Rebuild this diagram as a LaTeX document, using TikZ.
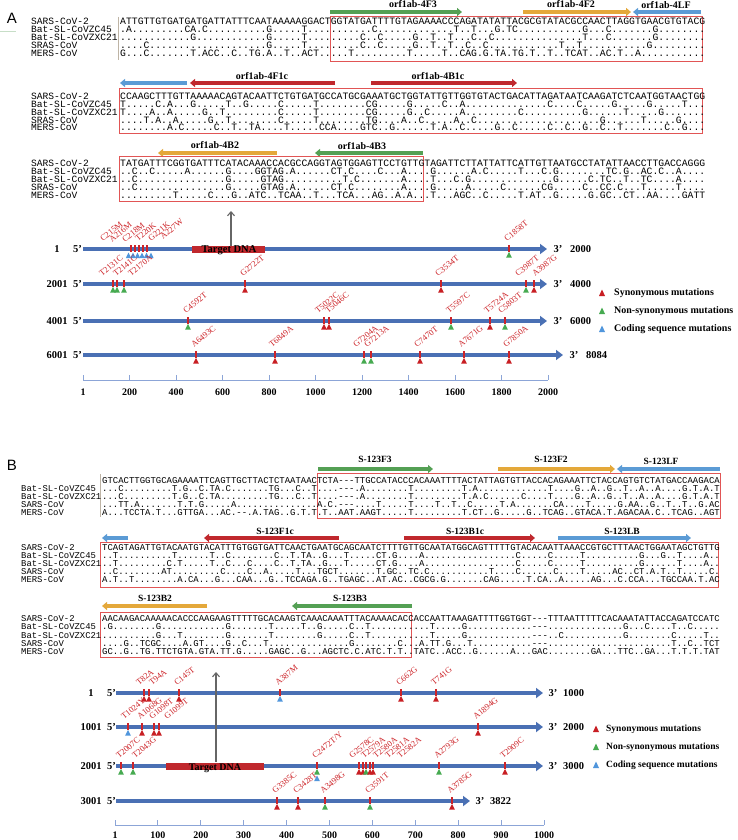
\documentclass[tikz,border=0pt]{standalone}
\usepackage{fontspec}
\setmainfont{Liberation Serif}
\setsansfont{Liberation Sans}
\setmonofont{Liberation Mono}
\usetikzlibrary{arrows.meta}
\definecolor{pgreen}{RGB}{84,160,84}
\definecolor{porange}{RGB}{228,168,58}
\definecolor{pblue}{RGB}{91,155,213}
\definecolor{pred}{RGB}{192,40,45}
\definecolor{mapblue}{RGB}{74,112,180}
\definecolor{mred}{RGB}{205,35,40}
\definecolor{tred}{RGB}{200,30,35}
\definecolor{tgreen}{RGB}{70,170,80}
\definecolor{tblue}{RGB}{80,150,220}
\definecolor{boxred}{RGB}{225,85,85}
\definecolor{axisc}{RGB}{140,165,215}
\definecolor{sepc}{RGB}{190,180,165}
\newcommand\mut[5]{%
  \draw[mtick] (#1,#2-4) -- (#1,#2+2.5);
  \fill[#3] (#1-2.8,#2+8.5) -- (#1+2.8,#2+8.5) -- (#1,#2+3) -- cycle;
  \node[mlab] at (#5,#2-7) {#4};}
\newcommand\tri[3]{\fill[#3] (#1-3,#2+3) -- (#1+3,#2+3) -- (#1,#2-3.5) -- cycle;}
\newcommand\sqa[2]{\node[sqa] at (120,#1) {#2};}
\newcommand\sqb[2]{\node[sqb] at (102,#1) {#2};}
\newcommand\lba[2]{\node[lba] at (31,#1) {#2};}
\newcommand\lbb[2]{\node[lbb] at (21,#1) {#2};}
\begin{document}
\begin{tikzpicture}[x=1pt,y=-1pt,
  sqa/.style={anchor=base west,inner sep=0,font=\ttfamily\fontsize{9.75}{10}\selectfont},
  sqb/.style={anchor=base west,inner sep=0,font=\ttfamily\fontsize{8.95}{9}\selectfont},
  lba/.style={anchor=base west,inner sep=0,font=\ttfamily\fontsize{9.6}{10}\selectfont},
  lbb/.style={anchor=base west,inner sep=0,font=\ttfamily\fontsize{8.9}{9}\selectfont},
  seqbox/.style={draw=boxred,line width=0.8pt},
  primer/.style={line width=3.2pt,-{Triangle[length=5pt,width=8pt]}},
  plab/.style={inner sep=0,font=\bfseries\fontsize{10}{10}\selectfont},
  plabb/.style={inner sep=0,font=\bfseries\fontsize{9.5}{10}\selectfont},
  mapline/.style={draw=mapblue,line width=3.5pt,-{Triangle[length=7pt,width=10pt]}},
  mtick/.style={draw=mred,line width=1.4pt},
  mlab/.style={anchor=base west,inner sep=0,rotate=40,text=mred,font=\fontsize{8.5}{9}\selectfont},
  numl/.style={inner sep=0,font=\bfseries\fontsize{10.5}{11}\selectfont},
  legl/.style={anchor=west,inner sep=0,font=\bfseries\fontsize{10}{11}\selectfont},
  axl/.style={inner sep=0,font=\bfseries\fontsize{10}{11}\selectfont},
  graya/.style={draw=gray!80!black,line width=1.1pt,-{Straight Barb[length=4pt,width=7pt]}},
  tgt/.style={inner sep=0,font=\bfseries\fontsize{10.5}{11}\selectfont}]
\useasboundingbox[fill=white] (0,0) rectangle (738,840);

% ================= PANEL A =================
\node[font=\sffamily\fontsize{15}{15}\selectfont] (pA) at (12,18) {A};
\draw[green!25!gray!35,line width=0.8pt] (0,31) -- (16,31);

% --- block A1
\draw[primer,pgreen] (330,12) -- (462,12);
\node[plab] at (413,4) {orf1ab-4F3};
\draw[primer,porange] (523,12) -- (631,12);
\node[plab] at (571,4) {orf1ab-4F2};
\draw[primer,pblue] (701,12) -- (633,12);
\node[plab] at (666,5) {orf1ab-4LF};
\draw[sepc,line width=0.8pt] (118,17) -- (118,60);
\draw[seqbox] (330,16) rectangle (702,61);
\lba{25}{SARS-CoV-2}
\lba{33}{Bat-SL-CoVZC45}
\lba{41}{Bat-SL-CoVZXC21}
\lba{49}{SRAS-CoV}
\lba{57}{MERS-CoV}
\sqa{25}{ATTGTTGTGATGATGATTATTTCAATAAAAAGGACTGGTATGATTTTGTAGAAAACCCAGATATATTACGCGTATACGCCAACTTAGGTGAACGTGTACG}
\sqa{33}{.A.........CA.C..........G.....T...........C.............T..T...G.TC...........G...C.......G........}
\sqa{41}{............G............G.....T.........C..C.....G..T..T...C..C...............T...C.......G........}
\sqa{49}{....C....................G.....T.........C..C.....G..T..T..C..C............T..T...........G.........}
\sqa{57}{G...C.......T.ACC..C..TG.A..T..ACT.....T.........T.....T..CAG.G.TA.TG.T..T..TCAT..AC.T..A...........}

% --- block A2
\draw[primer,pblue] (187,83) -- (120,83);
\draw[primer,pred] (335,83) -- (190,83);
\node[plab] at (262,76) {orf1ab-4F1c};
\draw[primer,pred] (371,83) -- (517,83);
\node[plab] at (438,76) {orf1ab-4B1c};
\draw[seqbox] (119,88) rectangle (702,133);
\lba{100}{SARS-CoV-2}
\lba{108}{Bat-SL-CoVZC45}
\lba{116}{Bat-SL-CoVZXC21}
\lba{123.5}{SRAS-CoV}
\lba{131}{MERS-CoV}
\sqa{100}{CCAAGCTTTGTTAAAAACAGTACAATTCTGTGATGCCATGCGAAATGCTGGTATTGTTGGTGTACTGACATTAGATAATCAAGATCTCAATGGTAACTGG}
\sqa{108}{T.....C.A...G.....T..G.....C.....T........CG.....G.....C..A..............C....C.....G.....G.....T...}
\sqa{116}{T....A..A.....G..T.........C.....T........CG.....G..C.....A.........C..........G......T.....G.......}
\sqa{123.5}{....T.A..A.....G..T........C.....T........TG....A..C.....A..C.....................G......T.....G....}
\sqa{131}{........A.C.....C..T..TA....T.....CCA....GTC..G......T.A..C.....G..C.....C..C..G..C..T.......C..G...}

% --- block A3
\draw[primer,porange] (277,153) -- (158,153);
\node[plab] at (215,145) {orf1ab-4B2};
\draw[primer,pgreen] (423,153) -- (315,153);
\node[plab] at (362,146) {orf1ab-4B3};
\draw[seqbox] (119,156) rectangle (423,201);
\lba{166}{SARS-CoV-2}
\lba{174}{Bat-SL-CoVZC45}
\lba{182}{Bat-SL-CoVZXC21}
\lba{190}{SRAS-CoV}
\lba{198}{MERS-CoV}
\sqa{166}{TATGATTTCGGTGATTTCATACAAACCACGCCAGGTAGTGGAGTTCCTGTTGTAGATTCTTATTATTCATTGTTAATGCCTATATTAACCTTGACCAGGG}
\sqa{174}{..C..C.....A......G....GGTAG.A......CT.C....C...A....G......A.C.....T...C.G........TC.G..AC.C..A....}
\sqa{182}{..C...............G.....GTAG..........T.C.......A....T...C.G..............G.....C.TC..T..TC....A....}
\sqa{190}{..C...............G.....GTAG.A......CT.C........A....G.....A.....C......CG.....C..CC.C...T.....T....}
\sqa{198}{.........T.....C...G..ATC..TCAA..T...TCA...AG..A.A...T...AGC..C.....T.AT..G.....G.GC..CT..AA....GATT}

% --- map A
\draw[graya] (231,246) -- (231,211);
\foreach \yy/\st/\en/\ee in {249/1/2000/547,284/2001/4000/547,321/4001/6000/547,355/6001/8084/563}{
  \draw[mapline] (83,\yy) -- (\ee,\yy);
  \node[numl] at (57,\yy) {\st};
  \node[numl,anchor=east] at (82,\yy) {5'};
  \node[numl] at (\ee+11,\yy) {3'};
  \node[numl,anchor=west] at (\ee+23,\yy) {\en};
}
\fill[pred] (192,245.5) rectangle (265,252.5);
\node[tgt] at (229,250) {Target DNA};
% row 1 cluster
\foreach \xx in {128.5,133,137.5,142,146.5}{\fill[tblue] (\xx-2.6,258) -- (\xx+2.6,258) -- (\xx,252.5) -- cycle;}
\fill[tblue] (148.4,258) -- (153.6,258) -- (151,252.5) -- cycle;
\foreach \xx in {131,135,139,143,147}{\draw[mtick] (\xx,245) -- (\xx,251.5);}
\node[mlab] at (103,242) {C215M};
\node[mlab] at (112,243) {A216M};
\node[mlab] at (125,243) {C218M};
\node[mlab] at (138,242) {T220K};
\node[mlab] at (151,242) {G221K};
\node[mlab] at (163,240) {A227W};
\mut{509}{249}{tgreen}{C1858T}{507}
% row 2
\mut{113}{284}{tgreen}{T2131C}{102}
\mut{117}{284}{tgreen}{T2141C}{116}
\mut{124}{284}{tgreen}{T2170A}{131}
\mut{245}{284}{tred}{G2722T}{243}
\mut{441}{284}{tred}{C3534T}{438}
\mut{526}{284}{tgreen}{C3987T}{518}
\mut{534}{284}{tred}{A3987G}{535}
% row 3
\mut{188}{321}{tgreen}{C4592T}{186}
\mut{324}{321}{tred}{T5022C}{318}
\mut{329}{321}{tred}{T5046C}{328}
\mut{451}{321}{tgreen}{T5597C}{449}
\mut{490}{321}{tred}{T5724A}{487}
\mut{505}{321}{tgreen}{C5803T}{501}
% row 4
\mut{196}{355}{tred}{A6493C}{194}
\mut{275}{355}{tred}{T6849A}{272}
\mut{364}{355}{tgreen}{G7204A}{356}
\mut{371}{355}{tgreen}{G7213A}{367}
\mut{420}{355}{tred}{C7470T}{417}
\mut{464}{355}{tred}{A7671G}{461}
\mut{509}{355}{tred}{G7850A}{506}
% axis A
\draw[axisc,line width=0.9pt] (83,380) -- (548,380);
\foreach \i/\l in {0/1,1/200,2/400,3/600,4/800,5/1000,6/1200,7/1400,8/1600,9/1800,10/2000}{
  \draw[axisc,line width=0.9pt] (83+46.5*\i,375) -- (83+46.5*\i,380);
  \node[axl] at (83+46.5*\i,392) {\l};
}
% legend A
\tri{602}{293}{tred}
\node[legl] at (614,293) {Synonymous mutations};
\tri{602}{311}{tgreen}
\node[legl] at (614,311) {Non-synonymous mutations};
\tri{602}{329}{tblue}
\node[legl] at (614,329) {Coding sequence mutations};

% ================= PANEL B =================
\node[font=\sffamily\fontsize{15}{15}\selectfont] (pB) at (12,465) {B};

% --- block B1
\draw[primer,pgreen] (318,469) -- (433,469);
\node[plabb] at (375,459) {S-123F3};
\draw[primer,porange] (498,469) -- (615,469);
\node[plabb] at (551,459) {S-123F2};
\draw[primer,pblue] (720,469) -- (617,469);
\node[plabb] at (661,461) {S-123LF};
\draw[sepc,line width=0.8pt] (100,474) -- (100,517);
\draw[seqbox] (317,473) rectangle (720,518);
\lbb{491.5}{Bat-SL-CoVZC45}
\lbb{499.5}{Bat-SL-CoVZXC21}
\lbb{507.5}{SARS-CoV}
\lbb{515.5}{MERS-CoV}
\sqb{483}{GTCACTTGGTGCAGAAAATTCAGTTGCTTACTCTAATAACTCTA---TTGCCATACCCACAAATTTTACTATTAGTGTTACCACAGAAATTCTACCAGTGTCTATGACCAAGACA}
\sqb{491.5}{...C.........T.G..C.TA.C.......TG...C..T....---.A........T.........T.A.............T....G..A..G..T..A..A....G.T.A.T}
\sqb{499.5}{...C.........T.G..C.TA.........TG...C..T....---.A........T.........T.A.C......C....T....G..A..G..T..A..A....G.T.A.T}
\sqb{507.5}{...TT.A.......T.T.G.....A...............A.C.---....T.....T....T..T..C.....T.A.......CA....T.....G.AA..G..T..T..G.AC}
\sqb{515.5}{A...TCCTA.T...GTTGA...AC.--.A.TAG..G.T.T.T..AAT.AAGT.....T.........T.CT..G.....G..TCAG..GTACA.T.AGACAA.C..TCAG..AGT}

% --- block B2
\draw[primer,pblue] (128,538) -- (102,538);
\draw[primer,pred] (339,538) -- (204,538);
\node[plabb] at (275,531) {S-123F1c};
\draw[primer,pred] (404,538) -- (535,538);
\node[plabb] at (465,531) {S-123B1c};
\draw[primer,pblue] (558,538) -- (691,538);
\node[plabb] at (622,531) {S-123LB};
\draw[seqbox] (100,542) rectangle (718,587);
\lbb{550}{SARS-CoV-2}
\lbb{558.5}{Bat-SL-CoVZC45}
\lbb{566.5}{Bat-SL-CoVZXC21}
\lbb{574.5}{SARS-CoV}
\lbb{582.5}{MERS-CoV}
\sqb{550}{TCAGTAGATTGTACAATGTACATTTGTGGTGATTCAACTGAATGCAGCAATCTTTTGTTGCAATATGGCAGTTTTTGTACACAATTAAACCGTGCTTTAACTGGAATAGCTGTTG}
\sqb{558.5}{..T..........T......T..C........C..T.TA..G...T.....CT.G....A.................C.....C.....T..........G...G..T....A..}
\sqb{566.5}{..T.........C.T.....T..C...C....C..T.TA..G...T.....CT.G....A.................C.....C.....T..........G......T....A..}
\sqb{574.5}{..C........AT.........C....C..A.....T...TGCT.......T.GC..TC.C...........T....C......C....T.....AC..CT.A.T..T.....C.}
\sqb{582.5}{A.T..T........A.CA...G...CAA...G..TCCAGA.G..TGAGC..AT.AC..CGCG.G.......CAG.....T.CA..A.....AG...C.CCA...TGCCAA.T.AC}

% --- block B3
\draw[primer,porange] (207,606) -- (102,606);
\node[plabb] at (155,598) {S-123B2};
\draw[primer,pgreen] (412,606) -- (292,606);
\node[plabb] at (350,598) {S-123B3};
\draw[seqbox] (100,612) rectangle (411,657);
\lbb{621}{SARS-CoV-2}
\lbb{629.5}{Bat-SL-CoVZC45}
\lbb{638}{Bat-SL-CoVZXC21}
\lbb{646}{SARS-CoV}
\lbb{654.5}{MERS-CoV}
\sqb{621}{AACAAGACAAAAACACCCAAGAAGTTTTTGCACAAGTCAAACAAATTTACAAAACACCACCAATTAAAGATTTTGGTGGT---TTTAATTTTTCACAAATATTACCAGATCCATC}
\sqb{629.5}{.G........G............G.......T.....T..G.....C..T...........T.....G............---..............G...C....T..C.....}
\sqb{638}{..........G...T........G.......T........G.....C..T...........T.....G............---..C...........G........C.....T..}
\sqb{646}{....G..TCGC....A.GT....G..C...T...............G........C...A.TT.G...T...........---.......................T..C..TCT}
\sqb{654.5}{GC..G..TG.TTCTGTA.GTA.TT.G.....GAGC..G...AGCTC.C.ATC.T.T..TATC..ACC..G......A...GAC........GA...TTC..GA...T.T.T.TAT}

% --- map B
\foreach \yy/\st/\en/\ee in {693/1/1000/543,727/1001/2000/543,766/2001/3000/543,801/3001/3822/470}{
  \draw[mapline] (116,\yy) -- (\ee,\yy);
  \node[numl] at (91,\yy) {\st};
  \node[numl,anchor=east] at (116,\yy) {5'};
  \node[numl] at (\ee+10,\yy) {3'};
  \node[numl,anchor=west] at (\ee+20,\yy) {\en};
}
\draw[graya] (216,762) -- (216,672);
\fill[pred] (166,763) rectangle (264,769.5);
\node[tgt,font=\bfseries\fontsize{10}{11}\selectfont] at (215,768) {Target DNA};
% row 1
\mut{144}{693}{tred}{T82A}{139}
\mut{149}{693}{tred}{T94A}{152}
\mut{179}{693}{tred}{C145T}{177}
\mut{280}{693}{tblue}{A387M}{278}
\mut{401}{693}{tred}{C662G}{399}
\mut{436}{693}{tred}{T741G}{434}
% row 2
\mut{128}{727}{tblue}{T1024Y}{124}
\mut{142}{727}{tred}{A1068G}{140}
\mut{154}{727}{tred}{G1098T}{152}
\mut{159}{727}{tred}{G1099T}{167}
\mut{478}{727}{tred}{A1894G}{476}
% row 3
\mut{121}{766}{tgreen}{T2007C}{119}
\mut{133}{766}{tgreen}{T2043G}{135}
\mut{317}{766}{tgreen}{C2472T/Y}{315}
\fill[tblue] (314.2,781) -- (319.8,781) -- (317,775.5) -- cycle;
\mut{359}{766}{tred}{G2578C}{352}
\mut{363}{766}{tred}{T2579A}{364}
\mut{366}{766}{tgreen}{T2580A}{376}
\mut{370}{766}{tred}{T2581A}{388}
\mut{373}{766}{tred}{T2582A}{400}
\mut{439}{766}{tgreen}{A2793G}{437}
\mut{505}{766}{tred}{T2909C}{503}
% row 4
\mut{277}{801}{tred}{G3385C}{275}
\mut{298}{801}{tred}{C3428T}{296}
\mut{325}{801}{tgreen}{A3498G}{323}
\mut{370}{801}{tgreen}{C3591T}{368}
\mut{452}{801}{tred}{A3785G}{450}
% axis B
\draw[axisc,line width=0.9pt] (115,825) -- (544,825);
\foreach \i/\l in {0/1,1/100,2/200,3/300,4/400,5/500,6/600,7/700,8/800,9/900,10/1000}{
  \draw[axisc,line width=0.9pt] (115+42.9*\i,820) -- (115+42.9*\i,825);
  \node[axl] at (115+42.9*\i,835.5) {\l};
}
% legend B
\tri{596}{729}{tred}
\node[legl,font=\bfseries\fontsize{9.5}{10}\selectfont] at (606,729) {Synonymous mutations};
\tri{596}{747}{tgreen}
\node[legl,font=\bfseries\fontsize{9.5}{10}\selectfont] at (606,747) {Non-synonymous mutations};
\tri{596}{765}{tblue}
\node[legl,font=\bfseries\fontsize{9.5}{10}\selectfont] at (606,765) {Coding sequence mutations};
\end{tikzpicture}
\end{document}
